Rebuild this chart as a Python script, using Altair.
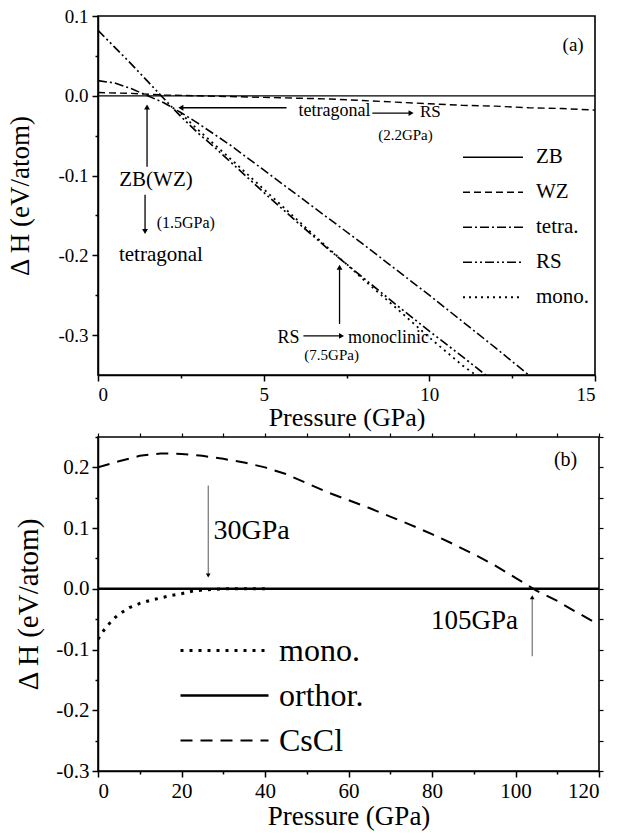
import altair as alt
import pandas as pd

FONT = "Liberation Serif"

# ---------------- panel (a): low-pressure phases ----------------
A_PHASES = ["ZB", "WZ", "tetra.", "RS", "mono."]
A_DASHES = [[1, 0], [7, 4], [9, 3, 2, 3], [9, 3, 2, 3, 2, 3], [2, 4]]
A_WIDTHS = [1.3, 1.8, 1.8, 1.8, 1.8]

A_ZB_P = [0, 15]
A_ZB_H = [0.0, 0.0]
A_WZ_P = [0, 1, 2, 3, 4, 5, 6, 7, 8, 9, 10, 11, 12, 13, 14, 15]
A_WZ_H = [0.004, 0.003, 0.001, 0.0, -0.001, -0.002, -0.003, -0.004,
          -0.006, -0.008, -0.010, -0.012, -0.013, -0.015, -0.016, -0.018]
A_TETRA_P = [0, 0.5, 1, 1.5, 2, 2.5, 3, 4, 5, 6, 7, 8, 9, 10, 11, 12, 13]
A_TETRA_H = [0.019, 0.016, 0.009, 0.0, -0.009, -0.021, -0.034, -0.062, -0.093,
             -0.124, -0.155, -0.186, -0.218, -0.25, -0.283, -0.316, -0.35]
A_RS_P = [0, 0.5, 1, 1.5, 2, 2.5, 3, 3.5, 4, 5, 6, 7, 7.5, 8, 9, 10, 11, 11.7]
A_RS_H = [0.082, 0.061, 0.04, 0.018, -0.004, -0.026, -0.046, -0.064, -0.083,
          -0.121, -0.158, -0.194, -0.211, -0.228, -0.262, -0.295, -0.327, -0.35]
A_MONO_P = [2.5, 3, 4, 5, 6, 7, 7.5, 8, 9, 10, 11, 11.4]
A_MONO_H = [-0.022, -0.042, -0.079, -0.117, -0.155, -0.193, -0.211, -0.230,
            -0.266, -0.303, -0.338, -0.35]

A_X_TICKS = [0, 2.5, 5, 7.5, 10, 12.5, 15]
A_Y_TICKS = [-0.3, -0.25, -0.2, -0.15, -0.1, -0.05, 0.0, 0.05, 0.1]

A_TEXT = ["(a)", "tetragonal", "RS", "(2.2GPa)", "ZB(WZ)", "(1.5GPa)",
          "tetragonal", "RS", "monoclinic", "(7.5GPa)"]
A_TEXT_X = [14.34, 7.14, 10.03, 9.28, 1.75, 2.65, 1.90, 5.75, 8.77, 7.05]
A_TEXT_Y = [0.064, -0.019, -0.020, -0.049, -0.105, -0.159, -0.200, -0.304, -0.304, -0.325]
A_TEXT_SIZE = [19, 18, 17, 15, 21, 16, 21, 18, 18, 15]

A_ARROW_X = [5.69, 8.28, 1.48, 1.42, 6.20, 7.29]
A_ARROW_Y = [-0.015, -0.0217, -0.089, -0.124, -0.301, -0.286]
A_ARROW_X2 = [2.50, 9.45, 1.48, 1.42, 7.35, 7.29]
A_ARROW_Y2 = [-0.015, -0.0217, -0.014, -0.170, -0.301, -0.215]
A_ARROW_DIR = ["triangle-left", "triangle-right", "triangle-up",
               "triangle-down", "triangle-right", "triangle-up"]

# ---------------- panel (b): high-pressure phases ----------------
B_PHASES = ["mono.", "orthor.", "CsCl"]
B_DASHES = [[3, 6], [1, 0], [12, 8]]
B_WIDTHS = [3, 2, 3.5]

B_MONO_P = [0, 1, 2, 3, 4, 5, 7.5, 10, 12.5, 15, 17.5, 20, 22.5, 25, 27.5, 30, 35, 40]
B_MONO_H = [-0.083, -0.072, -0.063, -0.055, -0.048, -0.042, -0.031, -0.024, -0.019,
            -0.015, -0.011, -0.008, -0.004, -0.002, -0.001, 0.0, 0.0, 0.0]
B_ORTHO_P = [0, 120]
B_ORTHO_H = [0.0, 0.0]
B_CSCL_P = [0, 5, 10, 15, 20, 25, 30, 35, 40, 45, 50, 55, 60, 65, 70, 75, 80,
            85, 90, 95, 100, 105, 110, 115, 120]
B_CSCL_H = [0.200, 0.210, 0.219, 0.223, 0.222, 0.219, 0.214, 0.208, 0.200, 0.189,
            0.174, 0.159, 0.146, 0.133, 0.119, 0.105, 0.090, 0.074, 0.057, 0.039,
            0.018, -0.003, -0.020, -0.040, -0.059]

B_X_TICKS = list(range(0, 121, 10))
B_Y_TICKS = [-0.3, -0.25, -0.2, -0.15, -0.1, -0.05, 0.0, 0.05, 0.1, 0.15, 0.2, 0.25]

B_TEXT = ["(b)", "30GPa", "105GPa"]
B_TEXT_X = [112.0, 36.8, 90.2]
B_TEXT_Y = [0.212, 0.096, -0.053]
B_TEXT_SIZE = [20, 28, 27]

B_ARROW_X = [26.4, 104.0]
B_ARROW_Y = [0.170, -0.111]
B_ARROW_X2 = [26.4, 104.0]
B_ARROW_Y2 = [0.022, -0.014]
B_ARROW_DIR = ["triangle-down", "triangle-up"]


def series_frame(parts):
    rows = []
    for name, ps, hs in parts:
        for p, h in zip(ps, hs):
            rows.append({"phase": name, "p": p, "h": h})
    return pd.DataFrame(rows)


def major(step):
    return f"abs(datum.value/{step} - round(datum.value/{step})) < 0.001"


def num_label(step, fmt):
    return (f"{major(step)} ? replace(format(datum.value, '{fmt}'), '\u2212', '-') : ''")


def tick_size(step, big, small):
    return {"condition": {"test": major(step), "value": big}, "value": small}


def panel(df, phases, dashes, widths, xs, ys, x_axis, y_axis, legend,
          texts, arrows, arrow_color, arrow_width, head_size, extra_axes=None):
    lines = alt.Chart(df).mark_line(color="black", clip=True).encode(
        x=alt.X("p:Q", scale=xs, axis=x_axis),
        y=alt.Y("h:Q", scale=ys, axis=y_axis),
        strokeDash=alt.StrokeDash("phase:N", scale=alt.Scale(domain=phases, range=dashes),
                                  legend=legend),
        strokeWidth=alt.StrokeWidth("phase:N", scale=alt.Scale(domain=phases, range=widths),
                                    legend=None),
        order=alt.Order("idx:Q"),
    )
    layers = [lines]
    if extra_axes is not None:
        top_axis, right_axis = extra_axes
        layers.append(alt.Chart(df).mark_point(opacity=0).encode(
            x=alt.X("p:Q", scale=xs, axis=top_axis),
            y=alt.Y("h:Q", scale=ys, axis=right_axis),
        ))
    tx = pd.DataFrame(texts)
    layers.append(alt.Chart(tx).mark_text(font=FONT, color="black", align="center",
                                          baseline="middle").encode(
        x=alt.X("x:Q", scale=xs, axis=None),
        y=alt.Y("y:Q", scale=ys, axis=None),
        text="t:N",
        size=alt.Size("fs:Q", scale=None, legend=None),
    ))
    ar = pd.DataFrame(arrows)
    layers.append(alt.Chart(ar).mark_rule(color=arrow_color, strokeWidth=arrow_width).encode(
        x=alt.X("x:Q", scale=xs, axis=None),
        y=alt.Y("y:Q", scale=ys, axis=None),
        x2="x2:Q",
        y2="y2:Q",
    ))
    layers.append(alt.Chart(ar).mark_point(filled=True, color="black", opacity=1,
                                           size=head_size).encode(
        x=alt.X("x2:Q", scale=xs, axis=None),
        y=alt.Y("y2:Q", scale=ys, axis=None),
        shape=alt.Shape("dir:N", scale=None, legend=None),
    ))
    return alt.layer(*layers).resolve_axis(x="independent", y="independent")


# ---- panel (a) ----
df_a = series_frame([("ZB", A_ZB_P, A_ZB_H), ("WZ", A_WZ_P, A_WZ_H),
                     ("tetra.", A_TETRA_P, A_TETRA_H), ("RS", A_RS_P, A_RS_H),
                     ("mono.", A_MONO_P, A_MONO_H)])
df_a["idx"] = df_a["p"]

axis_style = dict(labelFont=FONT, titleFont=FONT, labelColor="black", titleColor="black",
                  titleFontWeight="normal", domainColor="black", tickColor="black",
                  domainWidth=1.5, tickWidth=1.5, grid=False)

xa = alt.Axis(values=A_X_TICKS, labelExpr=num_label(5, "d"), tickSize=tick_size(5, 6, 3),
              labelFontSize=19, labelPadding=4, title="Pressure (GPa)", titleFontSize=26,
              titlePadding=0, **axis_style)
ya = alt.Axis(values=A_Y_TICKS, labelExpr=num_label(0.1, ".1f"), tickSize=tick_size(0.1, 6, 3),
              labelFontSize=19, labelPadding=4, title="\u0394 H (eV/atom)", titleFontSize=27,
              titlePadding=23, **axis_style)
legend_a = alt.Legend(title=None, orient="none", legendX=364, legendY=124, symbolType="stroke",
                      symbolSize=3600, symbolStrokeWidth=1.8, symbolStrokeColor="black",
                      clipHeight=34.5, rowPadding=0, labelFont=FONT, labelFontSize=21,
                      labelColor="black", labelOffset=12, padding=0)
texts_a = {"t": A_TEXT, "x": A_TEXT_X, "y": A_TEXT_Y, "fs": A_TEXT_SIZE}
arrows_a = {"x": A_ARROW_X, "y": A_ARROW_Y, "x2": A_ARROW_X2, "y2": A_ARROW_Y2,
            "dir": A_ARROW_DIR}
panel_a = panel(df_a, A_PHASES, A_DASHES, A_WIDTHS,
                alt.Scale(domain=[0, 15], nice=False, zero=False),
                alt.Scale(domain=[-0.35, 0.1], nice=False, zero=False),
                xa, ya, legend_a, texts_a, arrows_a, "black", 1.3, 34
                ).properties(width=497, height=359)

# ---- panel (b) ----
df_b = series_frame([("mono.", B_MONO_P, B_MONO_H), ("orthor.", B_ORTHO_P, B_ORTHO_H),
                     ("CsCl", B_CSCL_P, B_CSCL_H)])
df_b["idx"] = df_b["p"]

xb = alt.Axis(values=B_X_TICKS, labelExpr=num_label(20, "d"), tickSize=tick_size(20, 6, 3),
              labelFontSize=21, labelPadding=3, title="Pressure (GPa)", titleFontSize=27,
              titlePadding=2, **axis_style)
yb = alt.Axis(values=B_Y_TICKS, labelExpr=num_label(0.1, ".1f"), tickSize=tick_size(0.1, 6, 3),
              labelFontSize=21, labelPadding=3, title="\u0394 H (eV/atom)", titleFontSize=29,
              titlePadding=12, **axis_style)
top_b = alt.Axis(orient="top", values=B_X_TICKS, labels=False, title=None, domain=False,
                 tickSize=4, tickColor="black", tickWidth=1.2, grid=False)
right_b = alt.Axis(orient="right", values=B_Y_TICKS, labels=False, title=None, domain=False,
                   tickSize=4, tickColor="black", tickWidth=1.2, grid=False)
legend_b = alt.Legend(title=None, orient="none", legendX=81, legendY=191, symbolType="stroke",
                      symbolSize=7744, symbolStrokeWidth=2.5, symbolStrokeColor="black",
                      clipHeight=45, rowPadding=0, labelFont=FONT, labelFontSize=32,
                      labelColor="black", labelOffset=9, padding=0)
texts_b = {"t": B_TEXT, "x": B_TEXT_X, "y": B_TEXT_Y, "fs": B_TEXT_SIZE}
arrows_b = {"x": B_ARROW_X, "y": B_ARROW_Y, "x2": B_ARROW_X2, "y2": B_ARROW_Y2,
            "dir": B_ARROW_DIR}
panel_b = panel(df_b, B_PHASES, B_DASHES, B_WIDTHS,
                alt.Scale(domain=[0, 120], nice=False, zero=False),
                alt.Scale(domain=[-0.3, 0.25], nice=False, zero=False),
                xb, yb, legend_b, texts_b, arrows_b, "#555555", 1.0, 22,
                extra_axes=(top_b, right_b)
                ).properties(width=501, height=334)

chart = alt.vconcat(panel_a, panel_b, spacing=0).resolve_scale(
    strokeDash="independent", strokeWidth="independent"
).resolve_legend(strokeDash="independent").properties(
    padding={"left": 6, "top": 6, "right": 5, "bottom": 5},
    background="white",
).configure(font=FONT).configure_axis(
    labelFont=FONT, titleFont=FONT, titleFontWeight="normal", labelColor="black",
    titleColor="black",
).configure_legend(labelFont=FONT).configure_text(font=FONT).configure_view(
    stroke="black", strokeWidth=1.6
)

chart.save("out.html", embed_options={"renderer": "svg", "actions": False})
